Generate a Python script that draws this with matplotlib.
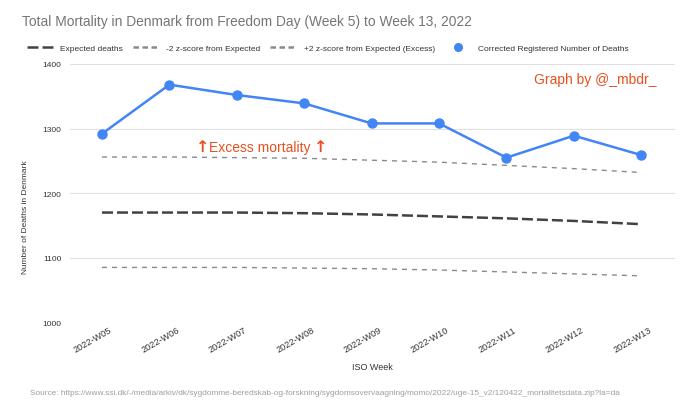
import matplotlib
matplotlib.use("Agg")
import matplotlib.pyplot as plt
import matplotlib.transforms as mtransforms
from matplotlib.lines import Line2D

# values
weeks = ["2022-W05", "2022-W06", "2022-W07", "2022-W08", "2022-W09",
         "2022-W10", "2022-W11", "2022-W12", "2022-W13"]
registered = [1292, 1368, 1352, 1339, 1308, 1308, 1255, 1289, 1259]
expected = [1170, 1170, 1170, 1169, 1167, 1164, 1161, 1157, 1152]
upper_z2 = [1256, 1256, 1255, 1254, 1251, 1248, 1243, 1238, 1232]
lower_z2 = [1085, 1085, 1085, 1084, 1083, 1081, 1078, 1075, 1072]
y_ticks = [1000, 1100, 1200, 1300, 1400]

source = ("Source: https://www.ssi.dk/-/media/arkiv/dk/sygdomme-beredskab-og-forskning/"
          "sygdomsovervaagning/momo/2022/uge-15_v2/120422_mortalitetsdata.zip?la=da")

plt.rcParams['font.family'] = ['Liberation Sans', 'DejaVu Sans']

BLUE = '#4285f4'
RED = '#e8501e'

fig = plt.figure(figsize=(6.97, 4.14), dpi=100)
ax = fig.add_axes([0.1004, 0.219, 0.868, 0.624])

x = list(range(len(weeks)))
ax.plot(x, expected, color='#424242', lw=1.8, dashes=(4.4, 1.6), zorder=2)
ax.plot(x, lower_z2, color='#8a8a8a', lw=1.0, dashes=(3.6, 3.6), zorder=2)
ax.plot(x, upper_z2, color='#8a8a8a', lw=1.0, dashes=(3.6, 3.6), zorder=2)
ax.plot(x, registered, color=BLUE, lw=1.8, marker='o', markersize=6.5, zorder=3)

ax.set_xlim(-0.475, 8.5)
ax.set_ylim(1000, 1400)
ax.set_yticks(y_ticks)
ax.set_xticks(x)
ax.set_xticklabels(weeks, rotation=30, ha='right', rotation_mode='anchor')
ax.tick_params(axis='both', length=0, labelcolor='#333333')
ax.tick_params(axis='y', pad=6, labelsize=6)
ax.tick_params(axis='x', pad=2, labelsize=6.6)
shift = mtransforms.ScaledTranslation(7 / 100, 0, fig.dpi_scale_trans)
for lbl in ax.get_xticklabels():
    lbl.set_transform(lbl.get_transform() + shift)
ax.grid(axis='y', color='#e0e0e0', lw=0.8)
ax.set_axisbelow(True)
for s in ax.spines.values():
    s.set_visible(False)

ax.set_xlabel('ISO Week', fontsize=6.5, color='#333333', labelpad=6)

fig.text(0.036, 1 - 217 / 414, 'Number of Deaths in Denmark', rotation=90,
         fontsize=6, color='#333333', ha='center', va='center')

fig.text(22 / 697, 1 - 22 / 414, 'Total Mortality in Denmark from Freedom Day (Week 5) to Week 13, 2022',
         fontsize=9.9, color='#757575', ha='left', va='center')

fig.text(30 / 697, 1 - 394 / 414, source, fontsize=5.95, color='#9e9e9e',
         ha='left', va='center')

handles = [
    Line2D([], [], color='#424242', lw=1.8, dashes=(4.4, 1.6)),
    Line2D([], [], color='#8a8a8a', lw=1.8, dashes=(2.2, 1.4)),
    Line2D([], [], color='#8a8a8a', lw=1.8, dashes=(2.2, 1.4)),
    Line2D([], [], color=BLUE, lw=0, marker='o', markersize=5.5),
]
labels = ['Expected deaths', '-2 z-score from Expected',
          '+2 z-score from Expected (Excess)', 'Corrected Registered Number of Deaths']
fig.legend(handles, labels, loc='center', bbox_to_anchor=(0.47, 1 - 49 / 414), ncol=4,
           frameon=False, fontsize=6, handlelength=3.2, handletextpad=0.8,
           columnspacing=1.2, labelcolor='#333333')

ax.text(1.49, 1272, '\u2191', fontsize=11.5, color=RED, ha='center', va='center',
        fontweight='bold', family='DejaVu Sans')
ax.text(1.58, 1272, 'Excess mortality', fontsize=10, color=RED, ha='left', va='center')
ax.text(3.24, 1272, '\u2191', fontsize=11.5, color=RED, ha='center', va='center',
        fontweight='bold', family='DejaVu Sans')

ax.text(8.22, 1377, 'Graph by @_mbdr_', fontsize=10, color=RED, ha='right', va='center')

fig.savefig('out.png', dpi=100, facecolor='white')
